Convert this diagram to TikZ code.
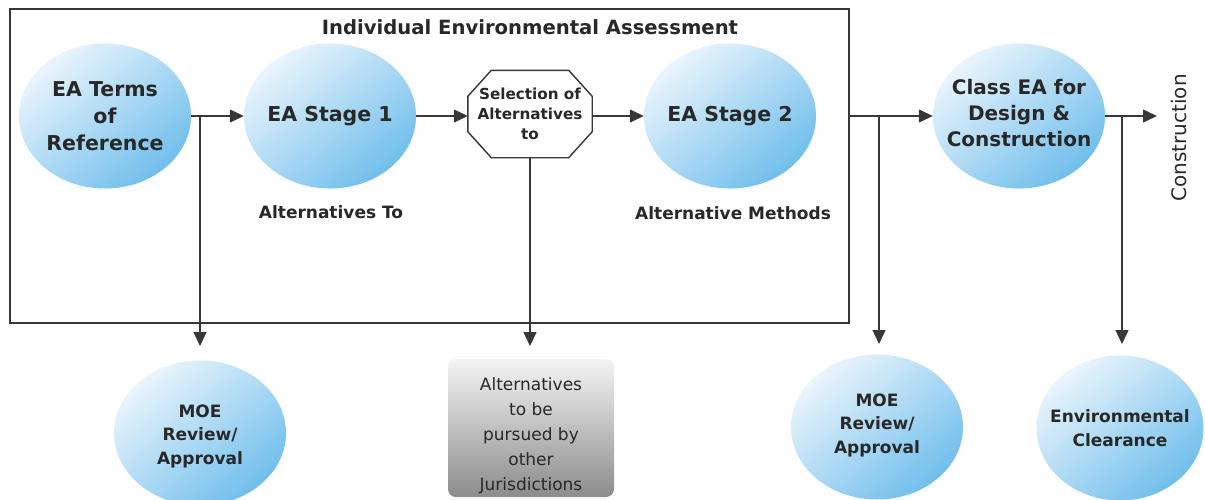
\documentclass[tikz,border=0pt]{standalone}
\usepackage{fontspec}
\setmainfont{DejaVu Sans}
\usetikzlibrary{arrows.meta,shapes.geometric}
\definecolor{bluelight}{RGB}{234,245,252}
\definecolor{bluedark}{RGB}{112,190,236}
\definecolor{ink}{RGB}{40,40,40}
\definecolor{linegray}{RGB}{55,55,55}
\definecolor{graytop}{RGB}{244,244,244}
\definecolor{graybot}{RGB}{140,140,140}
\begin{document}
\begin{tikzpicture}[x=1pt,y=-1pt,
  bubble/.style={ellipse, minimum width=172pt, minimum height=145pt, inner sep=0pt,
    top color=bluelight, bottom color=bluedark, shading angle=40},
  btext/.style={align=center, text=ink, inner sep=0pt},
  bigtxt/.style={font=\bfseries\fontsize{20.5}{27}\selectfont},
  smalltxt/.style={font=\bfseries\fontsize{17}{23.5}\selectfont},
  lab/.style={text=ink, font=\bfseries\fontsize{17}{20}\selectfont},
  arr/.style={draw=linegray, line width=1.4pt, -{Triangle[length=14pt,width=13pt]}},
  plain/.style={draw=linegray, line width=1.4pt}
]
\useasboundingbox (0,0) rectangle (1205,499);
\fill[white] (0,0) rectangle (1205,499);

% outer box
\node[draw=linegray, line width=1.6pt, minimum width=839pt, minimum height=314pt,
  inner sep=0pt, anchor=north west] (box) at (9,8) {};
\node[text=ink, font=\bfseries\fontsize{19.6}{23}\selectfont] (title) at (530,27) {Individual Environmental Assessment};

% top row
\node[bubble] (terms) at (105,116) {};
\node[btext, bigtxt] (termstxt) at (terms.center) {EA Terms\\of\\Reference};
\node[bubble] (stage1) at (330,116) {};
\node[btext, bigtxt] (stage1txt) at (stage1.center) {EA Stage 1};
\node[lab] (alt1) at (331,212) {Alternatives To};
\node[minimum width=124pt, minimum height=87pt, inner sep=0pt] (sel) at (530,114) {};
\draw[plain, fill=white] ([xshift=23.5pt]sel.north west) -- ([xshift=-23.5pt]sel.north east)
  -- ([yshift=-26pt]sel.north east) -- ([yshift=26pt]sel.south east)
  -- ([xshift=-23.5pt]sel.south east) -- ([xshift=23.5pt]sel.south west)
  -- ([yshift=26pt]sel.south west) -- ([yshift=-26pt]sel.north west) -- cycle;
\node[btext, font=\bfseries\fontsize{15.2}{20}\selectfont] (seltxt) at (sel.center) {Selection of\\Alternatives\\to};
\node[bubble] (stage2) at (730,116) {};
\node[btext, bigtxt] (stage2txt) at (stage2.center) {EA Stage 2};
\node[lab] (alt2) at (733,213) {Alternative Methods};
\node[bubble] (class) at (1019,116) {};
\node[btext, font=\bfseries\fontsize{20}{26}\selectfont] (classtxt) at (1019,113) {Class EA for\\Design \&\\Construction};
\node[rotate=90, text=ink, font=\fontsize{20}{24}\selectfont] (cons) at (1179,138) {Construction};

% bottom row
\node[bubble] (moe1) at (200,433) {};
\node[btext, smalltxt] (moe1txt) at (200,436) {MOE\\Review/\\Approval};
\node[rounded corners=8pt, minimum width=166pt, minimum height=138pt, inner sep=0pt,
  top color=graytop, bottom color=graybot] (altbox) at (531,428) {};
\node[btext, font=\fontsize{17}{25}\selectfont] (alttxt) at (531,436)
  {Alternatives\\to be\\pursued by\\other\\Jurisdictions};
\node[bubble] (moe2) at (877,427) {};
\node[btext, smalltxt] (moe2txt) at (877,425) {MOE\\Review/\\Approval};
\node[bubble, minimum width=167pt] (env) at (1120,428) {};
\node[btext, smalltxt] (envtxt) at (1120,428) {Environmental\\Clearance};

% coordinates
\coordinate (b1) at (200,116);
\coordinate (t1) at (200,346);
\coordinate (t2) at (530,346);
\coordinate (b3) at (879,116);
\coordinate (t3) at (879,344);
\coordinate (b4) at (1122,116);
\coordinate (t4) at (1122,344);
\coordinate (ctip) at (1157,116);

% connectors
\draw[arr] (terms) -- (stage1);
\draw[arr] (b1) -- (t1);
\draw[arr] (stage1) -- (sel.west |- stage1);
\draw[arr] (sel.east |- stage2) -- (stage2);
\draw[arr] (sel.south) -- (t2);
\draw[arr] (class.west -| box.east) -- (class.west);
\draw[arr] (b3) -- (t3);
\draw[arr] (class.east) -- (ctip);
\draw[arr] (b4) -- (t4);
\end{tikzpicture}
\end{document}
